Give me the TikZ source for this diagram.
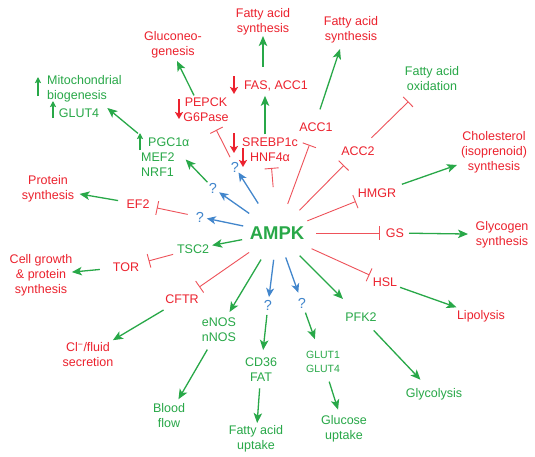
\documentclass[tikz,border=0pt]{standalone}
\usepackage{fontspec}
\setmainfont{Liberation Sans}
\usetikzlibrary{arrows.meta}
\definecolor{cred}{RGB}{236,34,46}
\definecolor{cinh}{RGB}{238,82,90}
\definecolor{cgreen}{RGB}{40,168,72}
\definecolor{cblue}{RGB}{66,134,204}
\newcommand\conn[5]{\draw[#1,shorten <=#2pt,shorten >=#3pt] (#4.center) -- (#5.center);}
\begin{document}
\begin{tikzpicture}[x=1pt,y=-1pt,
  lbl/.style={font=\fontsize{12.5}{15}\selectfont, align=center, inner sep=0pt},
  rtxt/.style={lbl, text=cred},
  gtxt/.style={lbl, text=cgreen},
  qm/.style={font=\fontsize{14.5}{16}\selectfont, text=cblue, inner sep=0pt},
  act/.style={draw=cgreen, line width=1.3pt, -{Stealth[length=10pt,width=8.5pt,inset=2.5pt]}},
  bact/.style={draw=cblue, line width=1.3pt, -{Stealth[length=9pt,width=8pt,inset=2.5pt]}},
  inh/.style={draw=cinh, line width=0.9pt, -{Bar[width=14pt,line width=0.9pt]}},
  upg/.style={draw=cgreen, line width=1.3pt, -{Stealth[length=6pt,width=6pt,inset=1pt]}},
  dnr/.style={draw=cred, line width=1.5pt, -{Stealth[length=7pt,width=8pt,inset=1.5pt]}},
]
\fill[white] (0,0) rectangle (535,456);
\useasboundingbox (0,0) rectangle (535,456);

% centre
\node[font=\bfseries\fontsize{18.5}{20}\selectfont, text=cgreen, inner sep=0pt] (ampk) at (277,233) {AMPK};

% outer labels
\node[rtxt] (fas1) at (263,21.5) {Fatty acid\\synthesis};
\node[rtxt] (gluco) at (173,44.5) {Gluconeo-\\genesis};
\node[rtxt] (fas2) at (351,29.5) {Fatty acid\\synthesis};
\node[gtxt] (fao) at (432,78.5) {Fatty acid\\oxidation};
\node[rtxt] (chol) at (494,152) {Cholesterol\\(isoprenoid)\\synthesis};
\node[rtxt] (glyc) at (502,234.5) {Glycogen\\synthesis};
\node[rtxt] (lipo) at (481,316) {Lipolysis};
\node[gtxt] (glycol) at (434,394) {Glycolysis};
\node[gtxt] (gluup) at (344,428.5) {Glucose\\uptake};
\node[gtxt] (faup) at (256,439) {Fatty acid\\uptake};
\node[gtxt] (blood) at (169,415.5) {Blood\\flow};
\node[rtxt] (cl) at (88,355) {Cl\textsuperscript{−}/fluid\\secretion};
\node[rtxt] (cellg) at (41,275) {Cell growth\\\& protein\\synthesis};
\node[rtxt] (prot) at (48,188.5) {Protein\\synthesis};
\node[gtxt, align=left, anchor=west] (mito) at (47,88.5) {Mitochondrial\\biogenesis};
\node[gtxt] (glut4a) at (79,113) {GLUT4};

% intermediate nodes
\node[rtxt] (pepck) at (206,109.5) {PEPCK\\G6Pase};
\node[rtxt] (fas) at (276,86) {FAS, ACC1};
\node[rtxt] (sreb) at (270,149.5) {SREBP1c\\HNF4α};
\node[gtxt, align=left, anchor=west] (pgc) at (141,157) {\hspace*{7pt}PGC1α\\MEF2\\NRF1};
\node[rtxt] (acc1) at (316,127) {ACC1};
\node[rtxt] (acc2) at (358,151) {ACC2};
\node[rtxt] (hmgr) at (377,193) {HMGR};
\node[rtxt] (gs) at (395,233) {GS};
\node[rtxt] (hsl) at (385,282) {HSL};
\node[gtxt] (pfk) at (361,317) {PFK2};
\node[gtxt, font=\fontsize{10.5}{14}\selectfont] (glut) at (323,362) {GLUT1\\GLUT4};
\node[gtxt] (cd36) at (261,369.5) {CD36\\FAT};
\node[gtxt] (enos) at (219,329.5) {eNOS\\nNOS};
\node[rtxt] (cftr) at (182,299) {CFTR};
\node[rtxt] (tor) at (126,267) {TOR};
\node[gtxt] (tsc2) at (193,249) {TSC2};
\node[rtxt] (ef2) at (138,204) {EF2};
\node[qm] (qa) at (200,217) {?};
\node[qm] (qb) at (213,188) {?};
\node[qm] (qc) at (235,167) {?};
\node[qm] (qd) at (268,305) {?};
\node[qm] (qe) at (302,303) {?};

% small up / down arrows
\draw[upg] (38,96) -- (38,77);
\draw[upg] (53,118) -- (53,101);
\draw[upg] (140,150) -- (140,133);
\draw[dnr] (179,99) -- (179,119);
\draw[dnr] (234,76) -- (234,94);
\draw[dnr] (234,133) -- (234,153);
\draw[dnr] (243,148) -- (243,167);

% connectors from AMPK
\conn{bact}{34.5}{7}{ampk}{qa}
\conn{bact}{34}{7.5}{ampk}{qb}
\conn{bact}{35}{6.5}{ampk}{qc}
\conn{bact}{27}{8}{ampk}{qd}
\conn{bact}{26}{11}{ampk}{qe}
\conn{act}{35.5}{19.5}{ampk}{tsc2}
\conn{act}{31}{20.5}{ampk}{enos}
\conn{act}{32}{25.5}{ampk}{pfk}
\conn{inh}{34}{21}{ampk}{cftr}
\conn{inh}{39}{15}{ampk}{gs}
\conn{inh}{38}{17}{ampk}{hsl}
\conn{inh}{32.7}{22.8}{ampk}{hmgr}
\conn{inh}{32}{20}{ampk}{acc2}
\conn{inh}{31}{19}{ampk}{acc1}
\conn{inh}{46}{18.5}{ampk}{sreb}

% second level
\conn{inh}{11}{22.8}{qc}{pepck}
\conn{inh}{12.6}{19.2}{qa}{ef2}
\conn{inh}{20.6}{23.4}{tsc2}{tor}
\conn{inh}{18.9}{33}{acc2}{fao}
\conn{act}{26.4}{39.3}{hmgr}{chol}
\conn{act}{14}{34}{gs}{glyc}
\conn{act}{16}{26}{hsl}{lipo}
\conn{act}{18.4}{19.7}{pfk}{glycol}
\conn{act}{10.2}{24.2}{qe}{glut}
\conn{act}{20.6}{19.8}{glut}{gluup}
\conn{act}{10}{19.6}{qd}{cd36}
\conn{act}{19}{16}{cd36}{faup}
\conn{act}{23.2}{18.8}{enos}{blood}
\conn{act}{21.5}{29}{cftr}{cl}
\conn{act}{26.3}{31}{tor}{cellg}
\conn{act}{20.2}{32}{ef2}{prot}
\draw[act, shorten <=8pt] (qb.center) -- ([shift={(-4,2.5)}]pgc.east);
\draw[act] ([shift={(-3,-4)}]pgc.north west) -- ([shift={(8,-5)}]glut4a.east);
\draw[act] ([shift={(-12,-2)}]pepck.north) -- ([shift={(4,3)}]gluco.south);
\draw[act] ([shift={(-5,-3)}]sreb.north) -- ([shift={(-11,4.5)}]fas.south);
\draw[act] ([shift={(-13,-14)}]fas.north) -- ([shift={(0,1)}]fas1.south);
\draw[act] ([shift={(4,-13)}]acc1.north) -- ([shift={(-11,6)}]fas2.south);
\end{tikzpicture}
\end{document}
